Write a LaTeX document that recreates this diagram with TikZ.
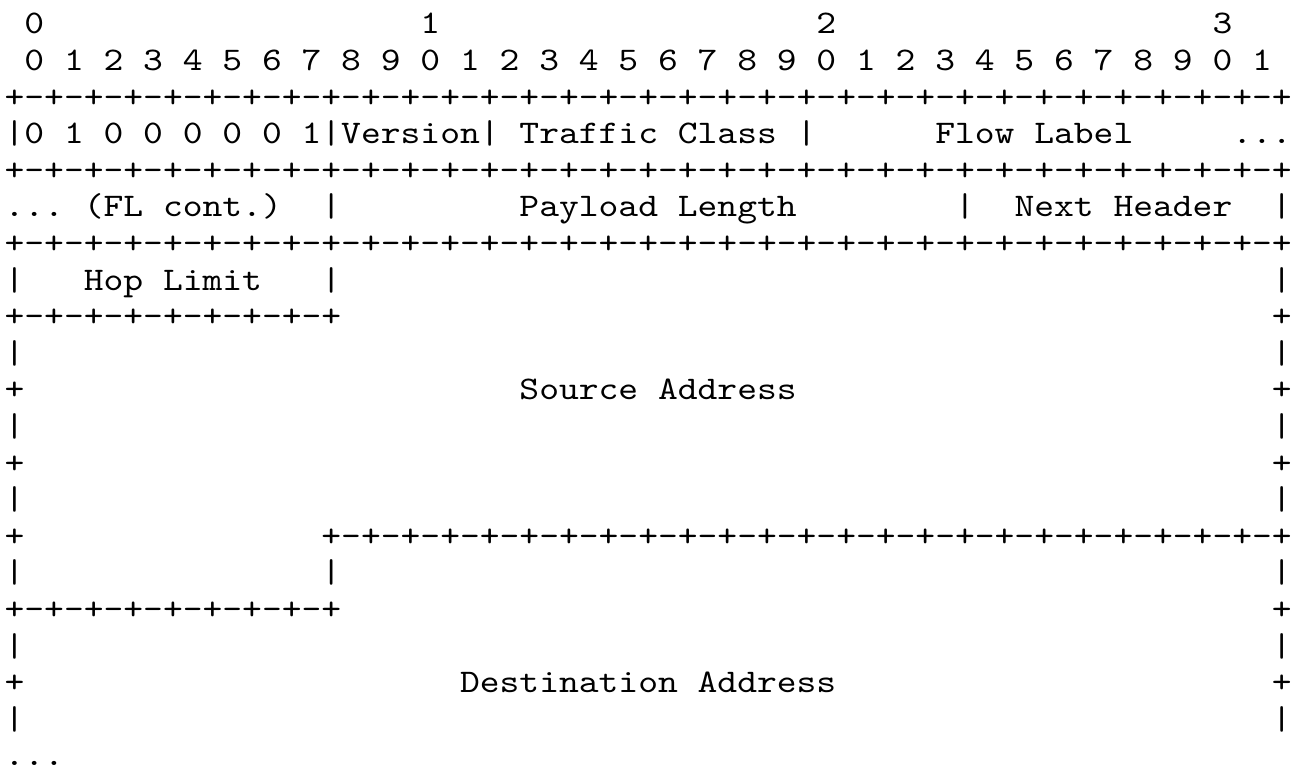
\documentclass[tikz,border=0pt]{standalone}
\usepackage{graphicx}
\usepackage{tikz}
\newcommand{\asc}[1]{\scalebox{1.142857}[1]{#1}}
\newcommand{\eightbits}{+-+-+-+-+-+-+-+-}

\begin{document}
\frenchspacing
\begin{tikzpicture}[
    x=6pt, y=-11.09pt,
    ascii/.style={anchor=base west, inner sep=0pt, font=\ttfamily\fontsize{10pt}{12pt}\selectfont}
]
    \useasboundingbox (0pt,0pt) rectangle (392.4pt,-232.4pt);

    \begin{scope}[shift={(1.2pt,-10.3pt)}]

    % ==========================================
    % BIT NUMBERING
    % ==========================================
    \node[ascii] (tens0) at (1,0) {\asc{0}};
    \node[ascii] (tens1) at (21,0) {\asc{1}};
    \node[ascii] (tens2) at (41,0) {\asc{2}};
    \node[ascii] (tens3) at (61,0) {\asc{3}};
    \node[ascii] (units) at (1,1) {\asc{0 1 2 3 4 5 6 7 8 9 0 1 2 3 4 5 6 7 8 9 0 1 2 3 4 5 6 7 8 9 0 1}};

    % ==========================================
    % WORD 1: DISPATCH, VERSION, TRAFFIC CLASS, FLOW LABEL
    % ==========================================
    \node[ascii] (rule1) at (0,2) {\asc{\eightbits\eightbits\eightbits\eightbits+}};
    \node[ascii] (dispatch) at (0,3) {\asc{|0 1 0 0 0 0 0 1|Version| Traffic Class |}};
    \node[ascii] (flowlbl) at (47,3) {\asc{Flow Label}};
    \node[ascii] (flowmore) at (62,3) {\asc{...}};

    % ==========================================
    % WORD 2: FLOW LABEL CONT., PAYLOAD LENGTH, NEXT HEADER
    % ==========================================
    \node[ascii] (rule2) at (0,4) {\asc{\eightbits\eightbits\eightbits\eightbits+}};
    \node[ascii] (flcont) at (0,5) {\asc{... (FL cont.)}};
    \node[ascii] (bar5a) at (16,5) {\asc{|}};
    \node[ascii] (paylen) at (26,5) {\asc{Payload Length}};
    \node[ascii] (bar5b) at (48,5) {\asc{|}};
    \node[ascii] (nexthdr) at (51,5) {\asc{Next Header}};
    \node[ascii] (bar5c) at (64,5) {\asc{|}};

    % ==========================================
    % WORD 3: HOP LIMIT, SOURCE ADDRESS
    % ==========================================
    \node[ascii] (rule3) at (0,6) {\asc{\eightbits\eightbits\eightbits\eightbits+}};
    \node[ascii] (bar7a) at (0,7) {\asc{|}};
    \node[ascii] (hoplim) at (4,7) {\asc{Hop Limit}};
    \node[ascii] (bar7b) at (16,7) {\asc{|}};
    \node[ascii] (bar7c) at (64,7) {\asc{|}};
    \node[ascii] (rule4) at (0,8) {\asc{\eightbits+}};
    \node[ascii] (plus8) at (64,8) {\asc{+}};
    \node[ascii] (bar9a) at (0,9) {\asc{|}};
    \node[ascii] (bar9b) at (64,9) {\asc{|}};
    \node[ascii] (plus10a) at (0,10) {\asc{+}};
    \node[ascii] (srcaddr) at (26,10) {\asc{Source Address}};
    \node[ascii] (plus10b) at (64,10) {\asc{+}};
    \node[ascii] (bar11a) at (0,11) {\asc{|}};
    \node[ascii] (bar11b) at (64,11) {\asc{|}};
    \node[ascii] (plus12a) at (0,12) {\asc{+}};
    \node[ascii] (plus12b) at (64,12) {\asc{+}};
    \node[ascii] (bar13a) at (0,13) {\asc{|}};
    \node[ascii] (bar13b) at (64,13) {\asc{|}};

    % ==========================================
    % DESTINATION ADDRESS
    % ==========================================
    \node[ascii] (plus14) at (0,14) {\asc{+}};
    \node[ascii] (rule5) at (16,14) {\asc{\eightbits\eightbits\eightbits+}};
    \node[ascii] (bar15a) at (0,15) {\asc{|}};
    \node[ascii] (bar15b) at (16,15) {\asc{|}};
    \node[ascii] (bar15c) at (64,15) {\asc{|}};
    \node[ascii] (rule6) at (0,16) {\asc{\eightbits+}};
    \node[ascii] (plus16) at (64,16) {\asc{+}};
    \node[ascii] (bar17a) at (0,17) {\asc{|}};
    \node[ascii] (bar17b) at (64,17) {\asc{|}};
    \node[ascii] (plus18a) at (0,18) {\asc{+}};
    \node[ascii] (dstaddr) at (23,18) {\asc{Destination Address}};
    \node[ascii] (plus18b) at (64,18) {\asc{+}};
    \node[ascii] (bar19a) at (0,19) {\asc{|}};
    \node[ascii] (bar19b) at (64,19) {\asc{|}};
    \node[ascii] (moredots) at (0,20) {\asc{...}};

    \end{scope}

\end{tikzpicture}
\end{document}
